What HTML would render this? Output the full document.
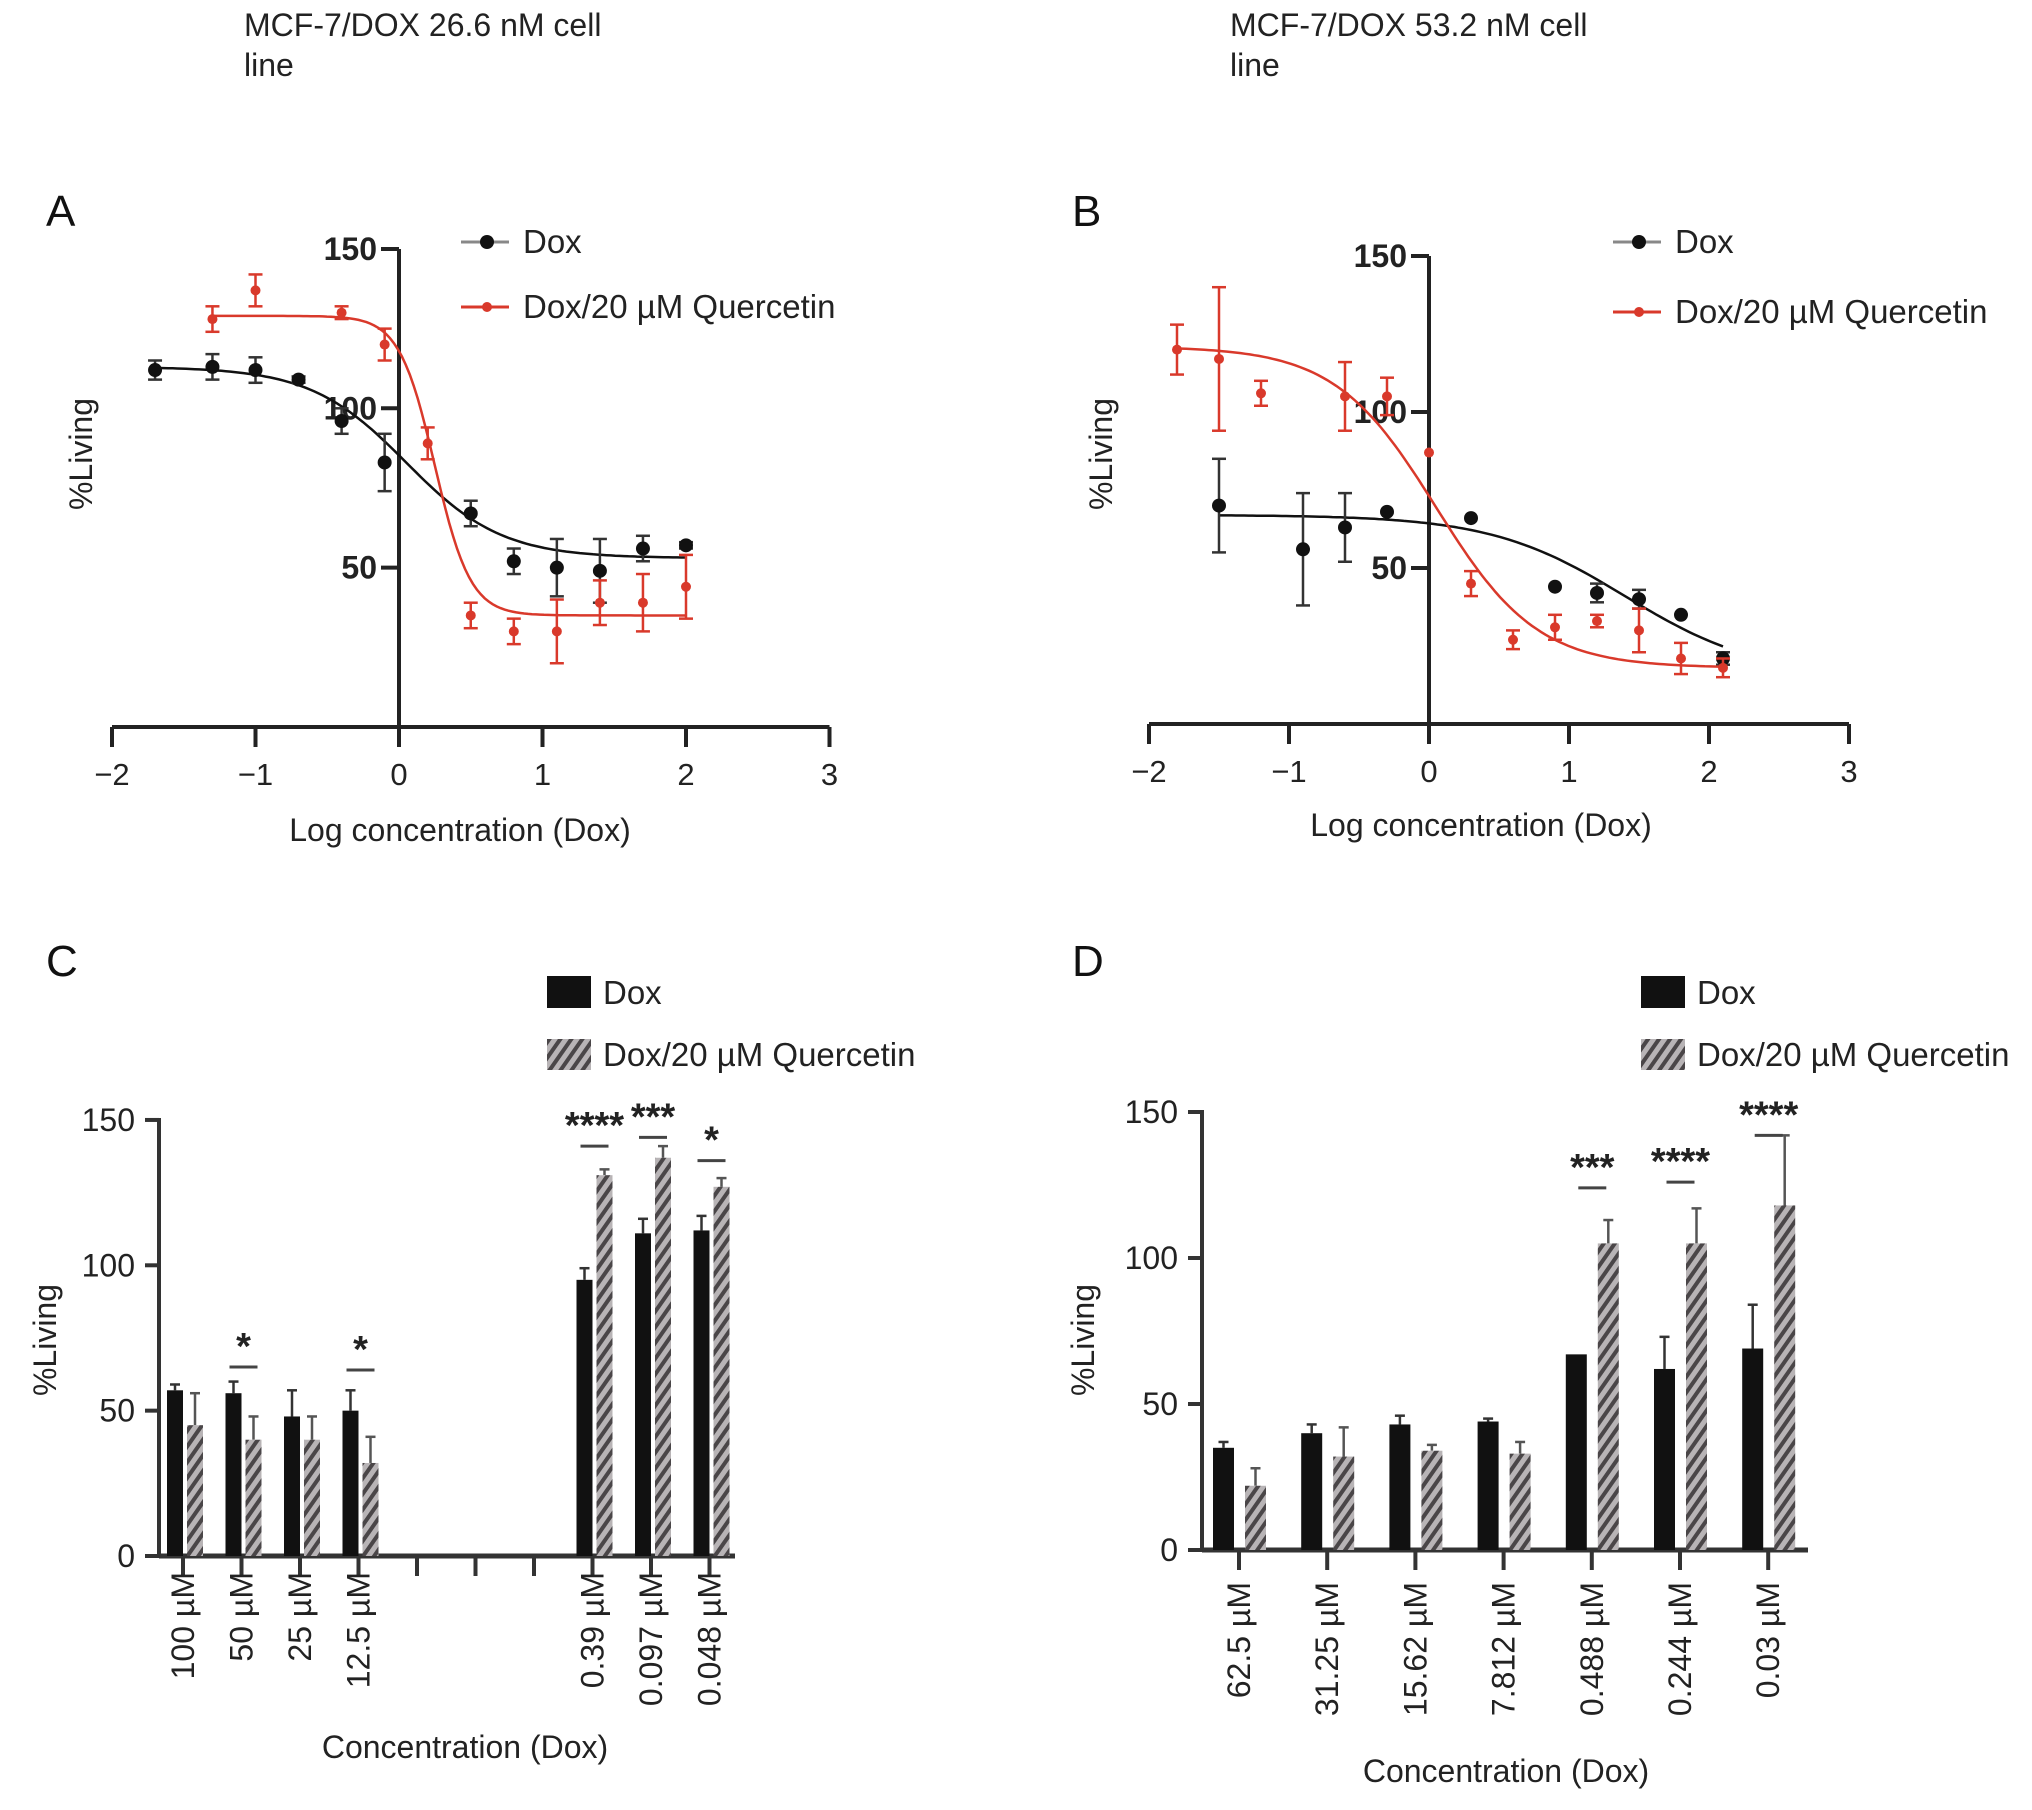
<!DOCTYPE html>
<html><head><meta charset="utf-8"><style>
html,body{margin:0;padding:0;background:#fff}
svg{display:block;font-family:"Liberation Sans",Arial,sans-serif}
</style></head><body>
<svg id="fig" width="2032" height="1810" viewBox="0 0 2032 1810" xmlns="http://www.w3.org/2000/svg">
<defs>
<pattern id="hatch" patternUnits="userSpaceOnUse" width="9" height="9" patternTransform="rotate(35)">
<rect width="9" height="9" fill="#b8b4b6"/><rect width="4" height="9" fill="#4a4648"/>
</pattern>
</defs>
<text x="244" y="36" font-size="32" fill="#222">MCF-7/DOX 26.6 nM cell</text>
<text x="244" y="76" font-size="32" fill="#222">line</text>
<text x="1230" y="36" font-size="32" fill="#222">MCF-7/DOX 53.2 nM cell</text>
<text x="1230" y="76" font-size="32" fill="#222">line</text>
<text x="46" y="226" font-size="44" fill="#111">A</text>
<text x="1072" y="226" font-size="44" fill="#111">B</text>
<text x="46" y="976" font-size="44" fill="#111">C</text>
<text x="1072" y="976" font-size="44" fill="#111">D</text>
<g id="layer"></g>
</svg>
<script>
// ---------- Panel A data ----------
const aDoxX=[-1.7,-1.3,-1,-0.7,-0.4,-0.1,0.5,0.8,1.1,1.4,1.7,2];
const aDoxY=[112,113,112,109,96,83,67,52,50,49,56,57];
const aDoxE=[3,4,4,1,4,9,4,4,9,10,4,1];
const aQuX=[-1.3,-1,-0.4,-0.1,0.2,0.5,0.8,1.1,1.4,1.7,2];
const aQuY=[128,137,130,120,89,35,30,30,39,39,44];
const aQuE=[4,5,2,5,5,4,4,10,7,9,10];
const aDoxFit=[113,53,0.05,1.3];
const aQuFit=[129,35,0.25,3.5];
// ---------- Panel B data ----------
const bDoxX=[-1.5,-0.9,-0.6,-0.3,0.3,0.9,1.2,1.5,1.8,2.1];
const bDoxY=[70,56,63,68,66,44,42,40,35,21];
const bDoxE=[15,18,11,0,0,0,3,3,0,2];
const bQuX=[-1.8,-1.5,-1.2,-0.6,-0.3,0,0.3,0.6,0.9,1.2,1.5,1.8,2.1];
const bQuY=[120,117,106,105,105,87,45,27,31,33,30,21,18];
const bQuE=[8,23,4,11,6,0,4,3,4,2,7,5,3];
const bDoxFit=[67,15,1.4,0.9];
const bQuFit=[121,18,0.05,1.2];
const xTicks=[-2,-1,0,1,2,3];
const yTicks=[50,100,150];
// ---------- Panel C data ----------
const cLabels=["100 µM","50 µM","25 µM","12.5 µM","","","","0.39 µM","0.097 µM","0.048 µM"];
const cDox=[57,56,48,50,null,null,null,95,111,112];
const cDoxE=[2,4,9,7,0,0,0,4,5,5];
const cQu=[45,40,40,32,null,null,null,131,137,127];
const cQuE=[11,8,8,9,0,0,0,2,4,3];
const cSig=["","*","","*","","","","****","***","*"];
const cSigLevel=[0,65,0,64,0,0,0,141,144,136];
// ---------- Panel D data ----------
const dLabels=["62.5 µM","31.25 µM","15.62 µM","7.812 µM","0.488 µM","0.244 µM","0.03 µM"];
const dDox=[35,40,43,44,67,62,69];
const dDoxE=[2,3,3,1,0,11,15];
const dQu=[22,32,34,33,105,105,118];
const dQuE=[6,10,2,4,8,12,24];
const dSig=["","","","","***","****","****"];
const dSigLevel=[0,0,0,0,124,126,142];
const barTicks=[0,50,100,150];

const NS="http://www.w3.org/2000/svg";
const layer=document.getElementById('layer');
function mk(tag,attrs,parent,txt){const e=document.createElementNS(NS,tag);for(const k in attrs)e.setAttribute(k,attrs[k]);if(txt!==undefined)e.textContent=txt;(parent||layer).appendChild(e);return e;}
function sig(p,x){return p[1]+(p[0]-p[1])/(1+Math.pow(10,(x-p[2])*p[3]));}

function scatterPanel(o){
  const g=mk('g',{});
  
  
  const X=v=>o.x0+v*o.xu, Y=v=>o.y0-v*o.yu;
  const xa=mk('line',{x1:X(-2),x2:X(3),y1:o.y0,y2:o.y0,stroke:'#222','stroke-width':4},g);
  
  const ya=mk('line',{x1:X(0),x2:X(0),y1:o.y0,y2:Y(150),stroke:'#222','stroke-width':4},g);
  
  xTicks.forEach(t=>{
    mk('line',{x1:X(t),x2:X(t),y1:o.y0,y2:o.y0+20,stroke:'#222','stroke-width':4},g);
    const tl=mk('text',{x:X(t),y:o.y0+58,'font-size':31,'text-anchor':'middle',fill:'#222'},g,t<0?'\u2212'+(-t):String(t));
    
  });
  yTicks.forEach(t=>{
    mk('line',{x1:X(0)-18,x2:X(0),y1:Y(t),y2:Y(t),stroke:'#222','stroke-width':4},g);
    const tl=mk('text',{x:X(0)-22,y:Y(t)+11,'font-size':32,'font-weight':'bold','text-anchor':'end',fill:'#222'},g,String(t));
    
  });
  const xt=mk('text',{x:o.xlx,y:o.y0+o.xtdy,'font-size':32,'text-anchor':'middle',fill:'#222'},g,'Log concentration (Dox)');
  
  const yt=mk('text',{x:0,y:0,'font-size':32,'text-anchor':'middle',fill:'#222',transform:`translate(${o.ylx},454) rotate(-90)`},g,'%Living');
  
  o.series.forEach(s=>{
    let d='';
    const xs=s.xs, lo=xs[0], hi=xs[xs.length-1];
    for(let i=0;i<=120;i++){const x=lo+(hi-lo)*i/120;d+=(i?'L':'M')+X(x).toFixed(1)+','+Y(sig(s.fit,x)).toFixed(1);}
    const c=mk('path',{d:d,fill:'none',stroke:s.col,'stroke-width':2.5},g);
    
    xs.forEach((x,i)=>{
      const y=s.ys[i],e=s.es[i];
      if(e>0){
        mk('line',{x1:X(x),x2:X(x),y1:Y(y-e),y2:Y(y+e),stroke:s.ecol,'stroke-width':2.5},g);
        mk('line',{x1:X(x)-7,x2:X(x)+7,y1:Y(y-e),y2:Y(y-e),stroke:s.ecol,'stroke-width':2.5},g);
        mk('line',{x1:X(x)-7,x2:X(x)+7,y1:Y(y+e),y2:Y(y+e),stroke:s.ecol,'stroke-width':2.5},g);
      }
      const p=mk('circle',{cx:X(x),cy:Y(y),r:s.r,fill:s.col},g);
      
      
    });
  });
  o.series.forEach((s,i)=>{
    const ly=o.legY[i];
    mk('line',{x1:o.legX-26,x2:o.legX+22,y1:ly,y2:ly,stroke:s.col==='#111'?'#888':s.col,'stroke-width':3},g);
    mk('circle',{cx:o.legX,cy:ly,r:s.r,fill:s.col},g);
    const lt=mk('text',{x:o.legX+36,y:ly+11,'font-size':33,fill:'#222'},g,s.label);
    
  });
}

scatterPanel({name:'panel-a-dose-response',x0:399,xu:143.5,y0:727,yu:3.187,xlx:460,xtdy:114,ylx:92,legX:487,legY:[242,307],
  series:[{key:'dox',xs:aDoxX,ys:aDoxY,es:aDoxE,fit:aDoxFit,col:'#111',ecol:'#333',r:7,label:'Dox'},
          {key:'quercetin',xs:aQuX,ys:aQuY,es:aQuE,fit:aQuFit,col:'#d9392b',ecol:'#d9392b',r:5,label:'Dox/20 µM Quercetin'}]});
scatterPanel({name:'panel-b-dose-response',x0:1429,xu:140,y0:724,yu:3.12,xlx:1481,xtdy:112,ylx:1112,legX:1639,legY:[242,312],
  series:[{key:'dox',xs:bDoxX,ys:bDoxY,es:bDoxE,fit:bDoxFit,col:'#111',ecol:'#333',r:7,label:'Dox'},
          {key:'quercetin',xs:bQuX,ys:bQuY,es:bQuE,fit:bQuFit,col:'#d9392b',ecol:'#d9392b',r:5,label:'Dox/20 µM Quercetin'}]});

function barPanel(o){
  const g=mk('g',{});
  
  
  const Y=v=>o.y0-v*o.yu, C=i=>o.c0+i*o.dc;
  const ya=mk('line',{x1:o.ax,x2:o.ax,y1:o.y0,y2:Y(150)-2,stroke:'#333','stroke-width':4},g);
  
  const xa=mk('line',{x1:o.ax,x2:o.axEnd,y1:o.y0,y2:o.y0,stroke:'#333','stroke-width':5},g);
  
  barTicks.forEach(t=>{
    mk('line',{x1:o.ax-14,x2:o.ax,y1:Y(t),y2:Y(t),stroke:'#333','stroke-width':4},g);
    const tl=mk('text',{x:o.ax-24,y:Y(t)+11,'font-size':32,'text-anchor':'end',fill:'#222'},g,String(t));
    
  });
  o.labels.forEach((lab,i)=>{
    const c=C(i);
    mk('line',{x1:c,x2:c,y1:o.y0,y2:o.y0+20,stroke:'#333','stroke-width':4},g);
    if(lab){
      const tl=mk('text',{x:0,y:0,'font-size':32,'text-anchor':'end',fill:'#222',transform:`translate(${c+11},${o.y0+o.lblOff}) rotate(-90)`},g,lab);
      
    }
    if(o.dox[i]!=null){
      const x1=c+o.dOff, x2=c+o.qOff;
      if(o.doxE[i]>0){mk('line',{x1:x1+o.w/2,x2:x1+o.w/2,y1:Y(o.dox[i]),y2:Y(o.dox[i]+o.doxE[i]),stroke:'#333','stroke-width':2.5},g);
        mk('line',{x1:x1+o.w/2-5,x2:x1+o.w/2+5,y1:Y(o.dox[i]+o.doxE[i]),y2:Y(o.dox[i]+o.doxE[i]),stroke:'#333','stroke-width':2.5},g);}
      const b=mk('rect',{x:x1,y:Y(o.dox[i]),width:o.w,height:o.dox[i]*o.yu,fill:'#111'},g);
      
      
      if(o.quE[i]>0){mk('line',{x1:x2+o.w/2,x2:x2+o.w/2,y1:Y(o.qu[i]),y2:Y(o.qu[i]+o.quE[i]),stroke:'#555','stroke-width':2.5},g);
        mk('line',{x1:x2+o.w/2-5,x2:x2+o.w/2+5,y1:Y(o.qu[i]+o.quE[i]),y2:Y(o.qu[i]+o.quE[i]),stroke:'#555','stroke-width':2.5},g);}
      const q=mk('rect',{x:x2,y:Y(o.qu[i]),width:o.w,height:o.qu[i]*o.yu,fill:'url(#hatch)'},g);
      
      
    }
    if(o.sig[i]){
      const mx=c+(o.dOff+o.qOff+o.w)/2;
      mk('line',{x1:mx-14,x2:mx+14,y1:Y(o.sigL[i]),y2:Y(o.sigL[i]),stroke:'#444','stroke-width':3},g);
      const st=mk('text',{x:mx,y:Y(o.sigL[i])-8,'font-size':38,'font-weight':'bold','text-anchor':'middle',fill:'#222'},g,o.sig[i]);
      
    }
  });
  const xt=mk('text',{x:o.xlx,y:o.xly,'font-size':32,'text-anchor':'middle',fill:'#222'},g,'Concentration (Dox)');
  
  const yt=mk('text',{x:0,y:0,'font-size':32,'text-anchor':'middle',fill:'#222',transform:`translate(${o.ylx},1340) rotate(-90)`},g,'%Living');
  
  const l1=mk('rect',{x:o.legX,y:976,width:44,height:32,fill:'#111'},g);
  
  const lt1=mk('text',{x:o.legX+56,y:1004,'font-size':33,fill:'#222'},g,'Dox');
  
  const l2=mk('rect',{x:o.legX,y:1039,width:44,height:31,fill:'url(#hatch)'},g);
  
  const lt2=mk('text',{x:o.legX+56,y:1066,'font-size':33,fill:'#222'},g,'Dox/20 µM Quercetin');
  
}

barPanel({name:'panel-c-bar-chart',labels:cLabels,dox:cDox,doxE:cDoxE,qu:cQu,quE:cQuE,sig:cSig,sigL:cSigLevel,
  y0:1556,yu:2.907,ax:159,axEnd:735,c0:183,dc:58.5,dOff:-16,qOff:4,w:16,xlx:465,xly:1758,ylx:56,legX:547,lblOff:16});
barPanel({name:'panel-d-bar-chart',labels:dLabels,dox:dDox,doxE:dDoxE,qu:dQu,quE:dQuE,sig:dSig,sigL:dSigLevel,
  y0:1550,yu:2.92,ax:1202,axEnd:1808,c0:1239,dc:88.2,dOff:-26,qOff:6,w:21,xlx:1506,xly:1782,ylx:1094,legX:1641,lblOff:32});
</script>
</body></html>
